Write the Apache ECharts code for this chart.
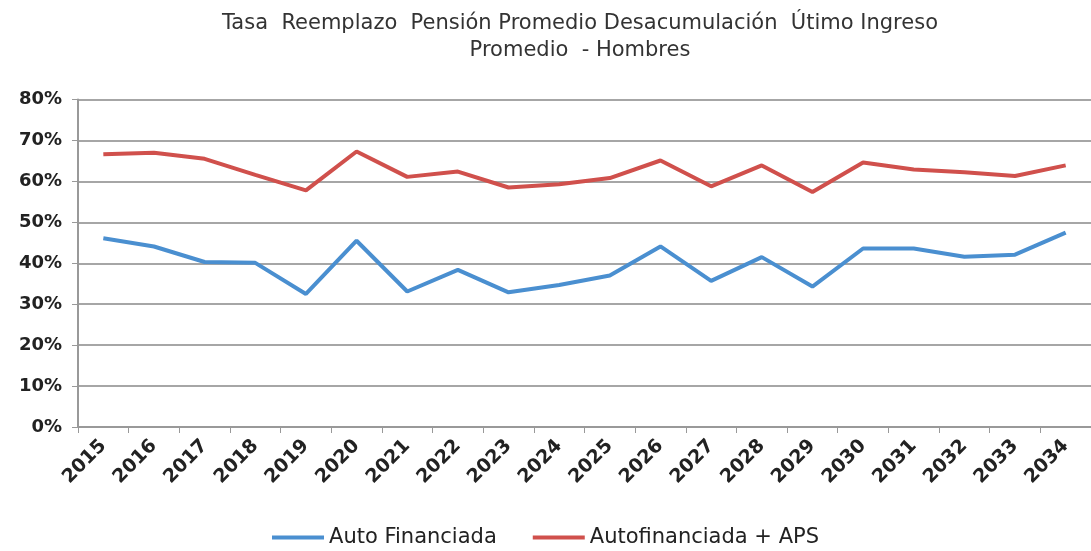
<!DOCTYPE html>
<html>
<head>
<meta charset="utf-8">
<script src="https://cdn.jsdelivr.net/npm/echarts@6/dist/echarts.min.js"></script>
<style>
  html, body { margin: 0; padding: 0; background: #fff; }
  #chart { width: 1091px; height: 551px; }
</style>
</head>
<body>
<div id="chart"></div>
<script>
const years = ['2015', '2016', '2017', '2018', '2019', '2020', '2021', '2022', '2023', '2024',
  '2025', '2026', '2027', '2028', '2029', '2030', '2031', '2032', '2033', '2034']

// tasas en %
const autoFinanciada = [46.1, 44.1, 40.3, 40.1, 32.5, 45.5, 33.1, 38.4, 32.9, 34.7,
  37.0, 44.1, 35.7, 41.5, 34.3, 43.6, 43.6, 41.6, 42.1, 47.5]
const autoFinanciadaAps = [66.6, 67.0, 65.5, 61.6, 57.8, 67.3, 61.1, 62.4, 58.5, 59.3,
  60.8, 65.1, 58.8, 63.9, 57.4, 64.6, 62.9, 62.2, 61.3, 63.9]

const titleText = 'Tasa  Reemplazo  Pensión Promedio Desacumulación  Útimo Ingreso\nPromedio  - Hombres'
const seriesNames = ['Auto Financiada', 'Autofinanciada + APS']

const chart = echarts.init(document.getElementById('chart'))

const option = {
  backgroundColor: '#fff',
  animation: false,
  title: {
    text: titleText,
    left: 575,
    textAlign: 'center',
    top: 5,
    textStyle: {
      fontFamily: 'DejaVu Sans',
      fontSize: 21,
      fontWeight: 'normal',
      color: '#333',
      lineHeight: 27
    }
  },
  legend: {
    data: seriesNames,
    bottom: -2,
    left: 'center',
    icon: 'rect',
    itemWidth: 52,
    itemHeight: 4,
    itemGap: 36,
    textStyle: {
      fontFamily: 'DejaVu Sans',
      fontSize: 21,
      color: '#222'
    }
  },
  grid: {
    left: 78,
    top: 99.5,
    width: 1018,
    height: 327.5
  },
  xAxis: {
    type: 'category',
    boundaryGap: true,
    data: years,
    axisLine: { lineStyle: { color: '#999', width: 2 } },
    axisTick: { show: true, length: 6, lineStyle: { color: '#999', width: 1 } },
    axisLabel: {
      rotate: 45,
      margin: 16,
      fontFamily: 'DejaVu Sans',
      fontWeight: 'bold',
      fontSize: 19,
      color: '#222'
    }
  },
  yAxis: {
    type: 'value',
    min: 0,
    max: 80,
    interval: 10,
    axisLine: { show: true, lineStyle: { color: '#999', width: 2 } },
    axisTick: { show: true, length: 6, lineStyle: { color: '#999' } },
    splitLine: { lineStyle: { color: '#a6a6a6', width: 2 } },
    axisLabel: {
      formatter: '{value}%',
      margin: 16,
      fontFamily: 'DejaVu Sans',
      fontWeight: 'bold',
      fontSize: 18,
      color: '#222'
    }
  },
  series: [
    {
      name: seriesNames[0],
      type: 'line',
      data: autoFinanciada,
      symbol: 'none',
      color: '#4a8fd0',
      lineStyle: { width: 4 }
    },
    {
      name: seriesNames[1],
      type: 'line',
      data: autoFinanciadaAps,
      symbol: 'none',
      color: '#d0504c',
      lineStyle: { width: 4 }
    }
  ]
}

chart.setOption(option)
</script>
</body>
</html>
